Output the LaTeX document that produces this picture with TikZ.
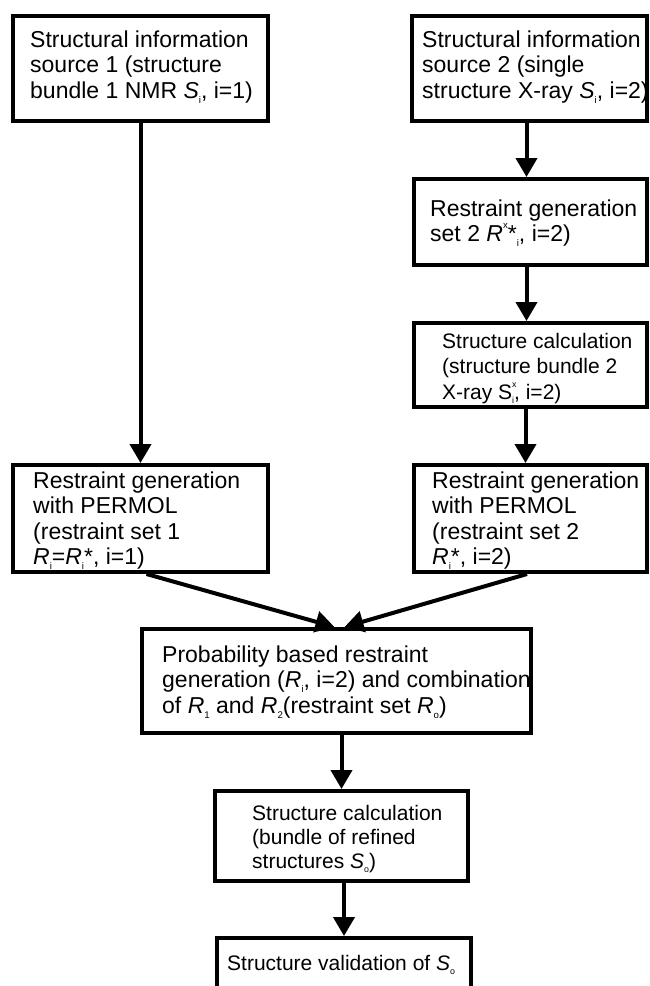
\documentclass[tikz,border=0pt]{standalone}
\usepackage{fontspec}
\setmainfont{Liberation Sans}
\usepackage{graphicx}
\usetikzlibrary{arrows.meta}
\newcommand\lo[1]{\raisebox{-0.22em}{\scalebox{0.42}{#1}}}
\newcommand\hi[1]{\raisebox{0.55em}{\scalebox{0.42}{#1}}}
\newcommand\both[2]{\rlap{\hi{#1}}\lo{#2}}
\tikzset{
  box/.style={draw, line width=4pt, inner sep=0pt},
  arr/.style={line width=4pt, -{Triangle[width=21pt,length=19pt]}},
  txt/.style={align=left, inner sep=0pt, anchor=base west, font=\fontsize{23}{25.5}\selectfont},
  txts/.style={align=left, inner sep=0pt, anchor=base west, font=\fontsize{21}{24}\selectfont}
}
\begin{document}
\begin{tikzpicture}[x=1pt,y=-1pt]
\clip (0,0) rectangle (650,986);
\fill[white] (0,0) rectangle (650,986);
% boxes
\node[box, minimum width=255pt, minimum height=105pt] (b1) at (140.5,68.5) {};
\node[box, minimum width=235pt, minimum height=105pt] (b2) at (529.5,68.5) {};
\node[box, minimum width=233pt, minimum height=86pt] (b3) at (530.5,222) {};
\node[box, minimum width=233pt, minimum height=84pt] (b4) at (530.5,365) {};
\node[box, minimum width=255pt, minimum height=107pt] (b5l) at (140.5,518.5) {};
\node[box, minimum width=233pt, minimum height=107pt] (b5r) at (530.5,518.5) {};
\node[box, minimum width=389pt, minimum height=104pt] (b6) at (336.5,681) {};
\node[box, minimum width=253pt, minimum height=90pt] (b7) at (341.5,836) {};
\node[box, minimum width=254pt, minimum height=62pt] (b8) at (344,969) {};
% texts (anchored at the baseline of the last line)
\node[txt] (t1) at (30,98) {Structural information\\source 1 (structure\\bundle 1 NMR \textit{S}\lo{i}, i=1)};
\node[txt] (t2) at (422,98) {Structural information\\source 2 (single\\structure X-ray \textit{S}\lo{i}, i=2)};
\node[txt] (t3) at (430,241.5) {Restraint generation\\set 2 \textit{R}\hi{x}*\lo{i}, i=2)};
\node[txts, font=\fontsize{21}{25.5}\selectfont] (t4) at (442,399) {Structure calculation\\(structure bundle 2\\X-ray S\both{x}{i}, i=2)};
\node[txt] (t5l) at (33,564.5) {Restraint generation\\with PERMOL\\(restraint set 1\\\textit{R}\lo{i}=\textit{R}\lo{i}*, i=1)};
\node[txt] (t5r) at (432,564.5) {Restraint generation\\with PERMOL\\(restraint set 2\\\textit{R}\lo{i}*, i=2)};
\node[txt] (t6) at (162,713) {Probability based restraint\\generation (\textit{R}\lo{i}, i=2) and combination\\of \textit{R}\lo{1} and \textit{R}\lo{2}(restraint set \textit{R}\lo{o})};
\node[txts] (t7) at (252,868) {Structure calculation\\(bundle of refined\\structures \textit{S}\lo{o})};
\node[txts] (t8) at (227,970) {Structure validation of \textit{S}\lo{o}};
% connectors
\draw[arr] (b1.south) -- (b5l.north);
\draw[arr] ([xshift=-3pt]b2.south) -- ([xshift=-3pt]b2.south |- b3.north);
\draw[arr] ([xshift=-4pt]b3.south) -- ([xshift=-4pt]b3.south |- b4.north);
\draw[arr] ([xshift=-5pt]b4.south) -- ([xshift=-5pt]b4.south |- b5r.north);
\draw[arr] ([xshift=6pt]b5l.south) -- ([xshift=-2pt]b6.north);
\draw[arr] ([xshift=-3.5pt]b5r.south) -- ([xshift=8pt]b6.north);
\draw[arr] (b7.north |- b6.south) -- (b7.north);
\draw[arr] (b8.north |- b7.south) -- (b8.north);
\end{tikzpicture}
\end{document}
